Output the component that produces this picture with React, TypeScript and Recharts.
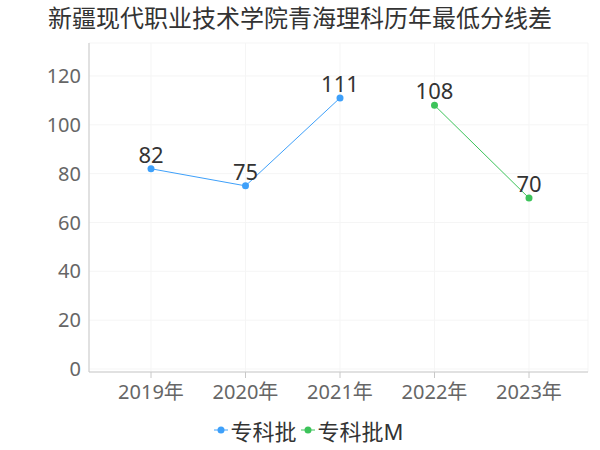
import React from 'react';
import { LineChart, Line, XAxis, YAxis, CartesianGrid, Legend, LabelList } from 'recharts';

const years = ['2019年', '2020年', '2021年', '2022年', '2023年'];
const zhuanke = [82, 75, 111, null, null];
const zhuankeM = [null, null, null, 108, 70];
const yTicks = [0, 20, 40, 60, 80, 100, 120];

const data = years.map((year, i) => ({ year, a: zhuanke[i], b: zhuankeM[i] }));

const font = '"Noto Sans", "Noto Sans CJK SC", sans-serif';
const BLUE = '#3ea0fa';
const GREEN = '#3cc35a';

const renderLegend = () => {
    const items = [
        { name: '专科批', color: BLUE },
        { name: '专科批M', color: GREEN },
    ];
    return (
        <div style={{ display: 'flex', justifyContent: 'center', alignItems: 'center', fontFamily: font, fontSize: 22, color: '#333' }}>
            {items.map((it) => (
                <div key={it.name} style={{ display: 'flex', alignItems: 'center', margin: '0 2px' }}>
                    <svg width={14} height={10} style={{ marginRight: 3 }}>
                        <line x1={0} y1={5} x2={14} y2={5} stroke={it.color} strokeWidth={1} />
                        <circle cx={7} cy={5} r={3.5} fill={it.color} />
                    </svg>
                    <span>{it.name}</span>
                </div>
            ))}
        </div>
    );
};

export default function App() {
    return (
        <div style={{ position: 'absolute', left: 0, top: 0, width: 600, height: 450, background: '#fff' }}>
            <div style={{ position: 'absolute', top: 2, left: 0, width: 600, textAlign: 'center', fontFamily: font, fontSize: 24, color: '#333', lineHeight: '32px' }}>
                新疆现代职业技术学院青海理科历年最低分线差
            </div>
            <LineChart width={600} height={450} data={data} margin={{ top: 43, right: 12, bottom: 0, left: 29 }}>
                <CartesianGrid stroke="#f5f5f5" />
                <XAxis
                    dataKey="year"
                    padding={{ left: 62, right: 59 }}
                    height={42}
                    tickMargin={7}
                    stroke="#c8c8c8"
                    tick={{ fill: '#666', fontSize: 20, fontFamily: font }}
                />
                <YAxis
                    width={60}
                    domain={[0, 133.5]}
                    ticks={yTicks}
                    padding={{ bottom: 3 }}
                    stroke="#c8c8c8"
                    tickLine={false}
                    tick={{ fill: '#666', fontSize: 20, fontFamily: font }}
                />
                <Legend verticalAlign="bottom" height={36} content={renderLegend} />
                <Line dataKey="a" name="专科批" stroke={BLUE} strokeWidth={1} dot={{ r: 3.5, fill: BLUE, stroke: BLUE, strokeWidth: 0 }} isAnimationActive={false}>
                    <LabelList dataKey="a" position="top" offset={6} style={{ fill: '#333', fontSize: 22, fontFamily: font }} />
                </Line>
                <Line dataKey="b" name="专科批M" stroke={GREEN} strokeWidth={1} dot={{ r: 3.5, fill: GREEN, stroke: GREEN, strokeWidth: 0 }} isAnimationActive={false}>
                    <LabelList dataKey="b" position="top" offset={6} style={{ fill: '#333', fontSize: 22, fontFamily: font }} />
                </Line>
            </LineChart>
        </div>
    );
}
